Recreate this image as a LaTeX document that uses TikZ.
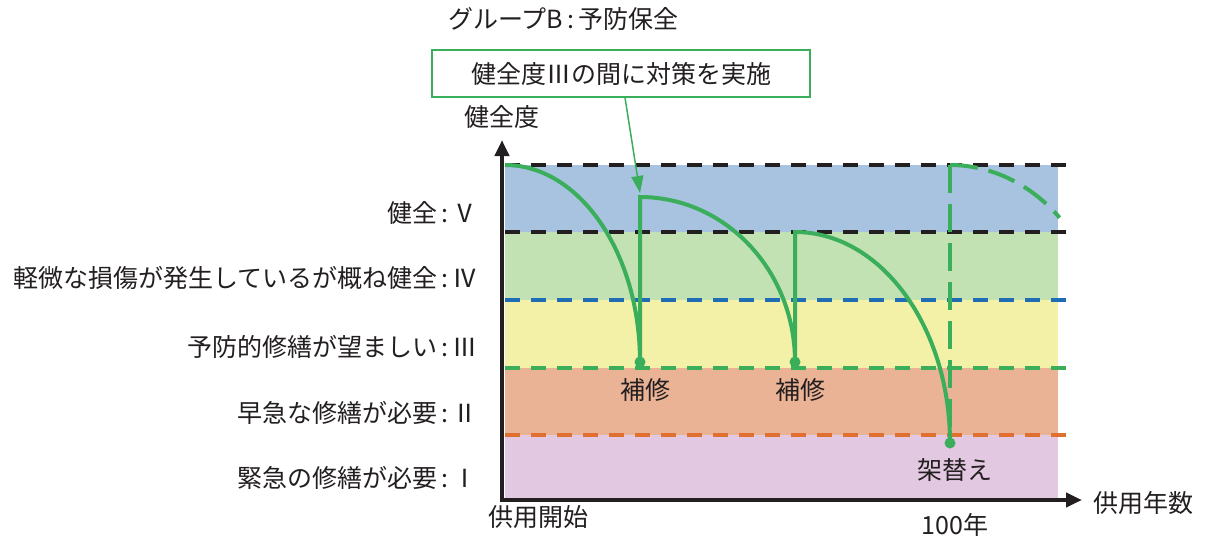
\documentclass[tikz,border=0pt]{standalone}
\usepackage{fontspec}
\setmainfont{Noto Sans CJK JP}
\usetikzlibrary{arrows.meta}
\definecolor{txt}{HTML}{231F20}
\definecolor{grn}{HTML}{3AAE5A}
\definecolor{bandV}{HTML}{A7C3E0}
\definecolor{bandIV}{HTML}{C2E2B3}
\definecolor{bandIII}{HTML}{F3F1A8}
\definecolor{bandII}{HTML}{EBB395}
\definecolor{bandI}{HTML}{E2C8E0}
\definecolor{lvblue}{HTML}{1F6EB5}
\definecolor{lvorange}{HTML}{E07030}
\tikzset{
  lbl/.style={font=\fontsize{25}{29}\selectfont, text=txt, inner sep=0pt},
  lvl/.style={line width=3.6pt, dash pattern=on 15pt off 11pt},
  axisline/.style={line width=4pt, draw=txt, -{Triangle[length=16pt,width=14pt]}},
  curve/.style={line width=4pt, draw=grn},
  dcurve/.style={line width=4pt, draw=grn, dash pattern=on 28pt off 11pt},
  dot/.style={fill=grn},
}
\begin{document}
\begin{tikzpicture}[x=1pt,y=-1pt]
\useasboundingbox (0,0) rectangle (1205,539);
% bands
\fill[bandV]   (505,165) rectangle (1058,232);
\fill[bandIV]  (505,232) rectangle (1058,300);
\fill[bandIII] (505,300) rectangle (1058,368);
\fill[bandII]  (505,368) rectangle (1058,435);
\fill[bandI]   (505,435) rectangle (1058,500);
% level lines
\draw[lvl, draw=txt]      (505,165) -- (1070,165);
\draw[lvl, draw=txt]      (505,232) -- (1070,232);
\draw[lvl, draw=lvblue]   (505,300) -- (1070,300);
\draw[lvl, draw=grn]      (505,368) -- (1070,368);
\draw[lvl, draw=lvorange] (505,435) -- (1070,435);
% axes
\coordinate (origin) at (502,500);
\coordinate (ytip) at (502,140);
\coordinate (xtip) at (1082,500);
\draw[axisline] ([yshift=-2pt]origin) -- (ytip);
\draw[axisline] ([xshift=-2pt]origin) -- (xtip);
% curves
\coordinate (s0) at (505,165);
\coordinate (r1) at (640,362);
\coordinate (t1) at (640,197);
\coordinate (r2) at (795,362);
\coordinate (t2) at (795,232);
\coordinate (r3) at (950,443);
\coordinate (t3) at (950,165);
\draw[curve] (s0) .. controls (579.5,165) and (640,253) .. (r1);
\draw[curve] (r1) -- (t1) .. controls (725.6,197) and (795,270.9) .. (r2);
\draw[curve] (r2) -- (t2) .. controls (880.6,232) and (950,326.5) .. (r3);
\draw[dcurve] (t3) -- (r3);
\draw[dcurve] (t3) .. controls (991.1,165) and (1030.5,183.9) .. (1059.6,217.7);
\fill[dot] (r1) circle (5.5pt);
\fill[dot] (r2) circle (5.5pt);
\fill[dot] (r3) circle (5.5pt);
% box and arrow
\node[lbl, draw=grn, line width=1.2pt, minimum width=378pt, minimum height=47pt] (box) at (621,73.5) {健全度Ⅲの間に対策を実施};
\coordinate (aend) at (640,193);
\draw[grn, line width=1.5pt, -{Triangle[length=17pt,width=12pt]}] ([xshift=4pt]box.south) -- (aend);
% texts
\node[lbl, anchor=west] (title) at (448,19) {グループB\,:\,予防保全};
\node[lbl] (ylab) at (502,117) {健全度};
\node[lbl, anchor=east] (l5) at (478,213) {健全\,:\,Ⅴ};
\node[lbl, anchor=east] (l4) at (478,278) {軽微な損傷が発生しているが概ね健全\,:\,Ⅳ};
\node[lbl, anchor=east] (l3) at (478,347) {予防的修繕が望ましい\,:\,Ⅲ};
\node[lbl, anchor=east] (l2) at (478,413) {早急な修繕が必要\,:\,Ⅱ};
\node[lbl, anchor=east] (l1) at (478,478) {緊急の修繕が必要\,:\,Ⅰ};
\node[lbl] (h1) at (645,390) {補修};
\node[lbl] (h2) at (800,390) {補修};
\node[lbl] (kk) at (955,470) {架替え};
\node[lbl] (y100) at (955,525) {100年};
\node[lbl] (start) at (538,517) {供用開始};
\node[lbl] (xlab) at (1143,503) {供用年数};
\end{tikzpicture}
\end{document}
